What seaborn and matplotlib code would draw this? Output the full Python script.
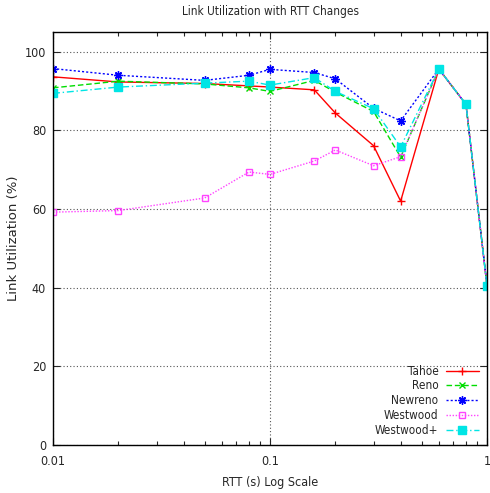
import matplotlib
matplotlib.use("Agg")
import matplotlib.pyplot as plt
import seaborn as sns
import pandas as pd
from matplotlib.ticker import FixedLocator, FixedFormatter, LogLocator, NullFormatter

rtt = [0.01, 0.02, 0.05, 0.08, 0.1, 0.16, 0.2, 0.3, 0.4, 0.6, 0.8, 1.0]
tahoe = [93.6, 92.3, 91.9, 91.3, 91.0, 90.3, 84.4, 76.1, 62.0, 95.6, 86.6, 40.5]
reno = [90.8, 92.5, 91.8, 90.8, 89.9, 92.7, 89.7, 84.8, 73.2, 95.6, 86.6, 40.5]
newreno = [95.7, 94.0, 92.7, 94.0, 95.5, 94.7, 93.1, 85.6, 82.4, 95.6, 86.6, 40.5]
westwood = [59.2, 59.6, 62.8, 69.4, 68.8, 72.2, 75.0, 71.0, 73.3, 95.6, 86.6, 40.5]
westwood_plus = [89.4, 91.0, 92.0, 92.5, 91.5, 93.4, 89.9, 85.5, 75.8, 95.6, 86.6, 40.5]

names = ["Tahoe", "Reno", "Newreno", "Westwood", "Westwood+"]
series = [tahoe, reno, newreno, westwood, westwood_plus]
colors = ["#ff0000", "#00dd00", "#0000ff", "#ff44ff", "#00e5e5"]
markers = ["+", "x", (8, 2, 0), "s", "s"]
msizes = [6, 4.5, 6, 5, 5.5]
mfc = ["#ff0000", "#00dd00", "#0000ff", "none", "#00e5e5"]
linestyles = ["-", (0, (4, 2)), (0, (1.5, 1.5)), (0, (1, 1.2)), (0, (5, 2, 1, 2))]

sns.set_theme(style="ticks")
plt.rcParams["font.family"] = ["DejaVu Sans"]
plt.rcParams["font.stretch"] = "condensed"

fig = plt.figure(figsize=(4.90, 4.93), dpi=100)
ax = fig.add_axes([53 / 490, 1 - 445 / 493, 434 / 490, 413 / 493])

for name, vals, c, m, ms, f, ls in zip(names, series, colors, markers, msizes, mfc, linestyles):
    df = pd.DataFrame({"RTT": rtt, "util": vals})
    sns.lineplot(data=df, x="RTT", y="util", ax=ax, color=c, marker=m,
                 markersize=ms, markerfacecolor=f,
                 markeredgecolor=c, markeredgewidth=1.0, linewidth=1.0,
                 linestyle=ls, label=name)

ax.set_xscale("log")
ax.set_xlim(0.01, 1)
ax.set_ylim(0, 105)
ax.xaxis.set_major_locator(FixedLocator([0.01, 0.1, 1]))
ax.xaxis.set_major_formatter(FixedFormatter(["0.01", "0.1", "1"]))
ax.xaxis.set_minor_locator(LogLocator(base=10, subs=range(2, 10)))
ax.xaxis.set_minor_formatter(NullFormatter())
ax.set_yticks([0, 20, 40, 60, 80, 100])
ax.tick_params(which="both", direction="in", top=True, right=True, labelsize=9)
ax.tick_params(axis="x", pad=7)
ax.tick_params(axis="y", pad=5)
ax.tick_params(which="major", length=5, width=0.8)
ax.tick_params(which="minor", length=3, width=0.8)
ax.grid(True, which="major", linestyle=(0, (1, 2)), color="#555555", linewidth=0.8)
for s in ax.spines.values():
    s.set_linewidth(1.0)
    s.set_color("black")

ax.set_xlabel("RTT (s) Log Scale", fontsize=9, labelpad=6)
ax.set_ylabel("Link Utilization (%)", fontsize=9.5, fontstretch="normal")
ax.yaxis.set_label_coords(-0.075, 0.5)
ax.set_title("Link Utilization with RTT Changes", fontsize=8.5, pad=12)

leg = ax.legend(loc="lower right", frameon=False, markerfirst=False, fontsize=8.5,
                handlelength=2.8, handletextpad=0.6, labelspacing=0.15,
                borderaxespad=0.3)
for t in leg.get_texts():
    t.set_ha("right")

fig.savefig("out.png", dpi=100)
